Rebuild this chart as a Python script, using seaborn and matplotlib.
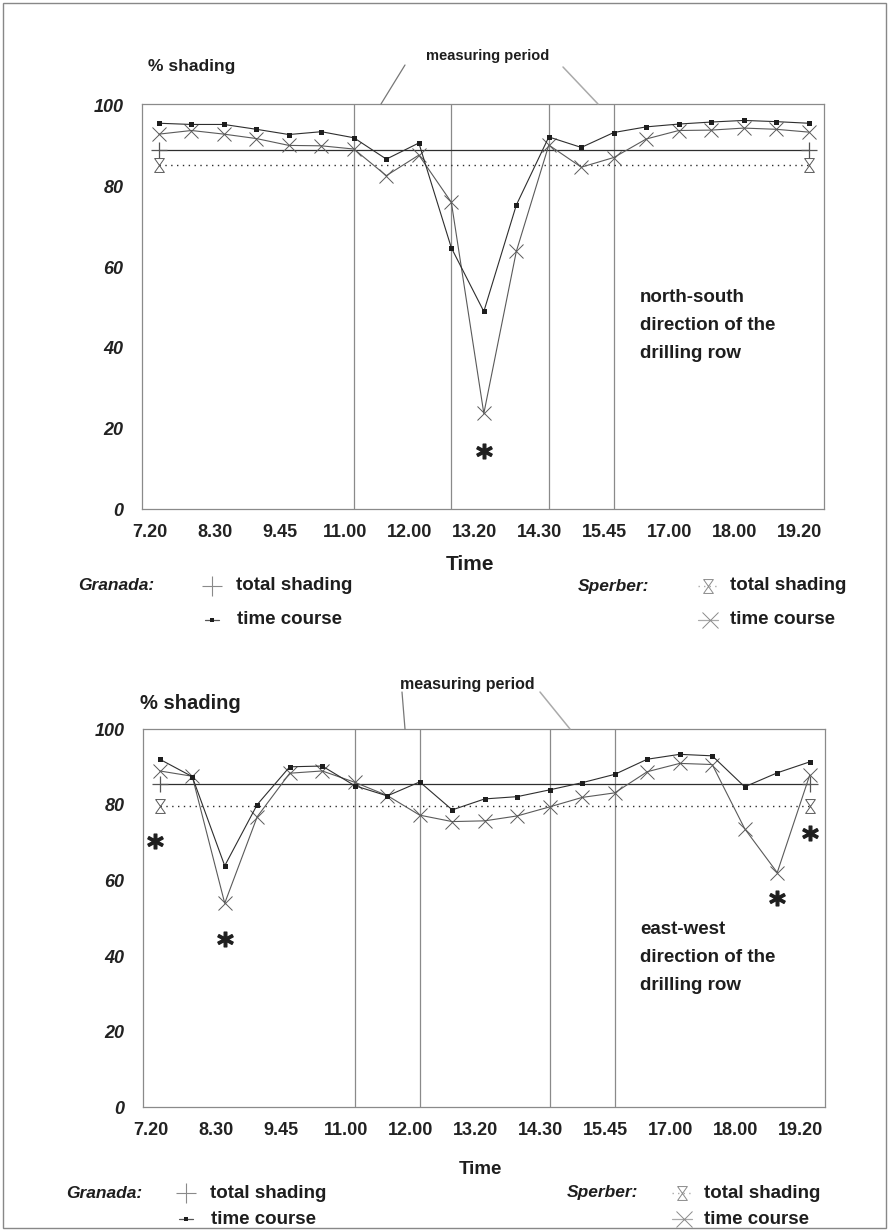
import numpy as np
import pandas as pd
import matplotlib
matplotlib.use("Agg")
import matplotlib.pyplot as plt
import seaborn as sns
from matplotlib.lines import Line2D
from matplotlib.path import Path
from matplotlib.patches import Rectangle
from matplotlib.transforms import ScaledTranslation

# --- data -------------------------------------------------------------
sample_idx = list(range(21))
time_labels = ["7.20", "8.30", "9.45", "11.00", "12.00", "13.20",
               "14.30", "15.45", "17.00", "18.00", "19.20"]
y_ticks = [0, 20, 40, 60, 80, 100]

# north-south drilling row
ns_granada_course = [95.7, 95.4, 95.4, 94.2, 92.9, 93.6, 92.1, 86.8, 90.8, 64.8, 49.0,
                     75.4, 92.3, 89.7, 93.4, 94.8, 95.5, 96.0, 96.4, 96.1, 95.7]
ns_sperber_course = [93.0, 93.9, 93.0, 91.9, 90.2, 90.1, 89.3, 82.7, 87.8, 76.1, 23.7,
                     63.9, 90.3, 84.8, 87.2, 91.8, 93.9, 94.0, 94.5, 94.2, 93.5]
ns_granada_total = 89.1
ns_sperber_total = 85.3
ns_periods = [6, 9, 12, 14]
ns_star_idx = [10]
ns_star_val = [14.4]

# east-west drilling row
ew_granada_course = [92.1, 87.5, 63.9, 80.1, 90.1, 90.3, 85.1, 82.4, 86.1, 78.7, 81.6,
                     82.2, 84.0, 85.9, 88.1, 92.1, 93.4, 93.0, 84.8, 88.5, 91.4]
ew_sperber_course = [89.0, 87.6, 54.0, 76.9, 88.4, 89.0, 86.0, 82.5, 77.3, 75.6, 75.8,
                     77.1, 79.5, 82.0, 83.2, 88.8, 91.0, 90.7, 73.7, 62.1, 87.9]
ew_granada_total = 85.5
ew_sperber_total = 79.8
ew_periods = [6, 8, 12, 14]
ew_star_idx = [-0.15, 2, 19, 20]
ew_star_val = [70.4, 44.5, 55.4, 72.6]

# --- style ------------------------------------------------------------
sns.set_theme(style="white")
plt.rcParams["font.family"] = ["Liberation Sans", "DejaVu Sans"]

W, H = 889, 1231
fig = plt.figure(figsize=(W / 100, H / 100), dpi=100)

C_G = "#2e2e2e"
C_S = "#5a5a5a"
C_AX = "#8a8a8a"

# hourglass marker for the Sperber total shading
hourglass = Path([(-0.7, 1), (0.7, 1), (-0.7, -1), (0.7, -1), (-0.7, 1)],
                 [Path.MOVETO, Path.LINETO, Path.LINETO, Path.LINETO, Path.LINETO])


def fx(px):
    return px / W


def fy(py):
    return 1 - py / H


def draw_panel(rect, ymax, g_course, s_course, g_total, s_total, periods,
               star_idx, star_val):
    ax = fig.add_axes(rect)
    df = pd.DataFrame({"idx": sample_idx, "granada": g_course, "sperber": s_course})

    for p in periods:
        ax.axvline(p, color=C_AX, lw=0.9, zorder=1)

    ends = [sample_idx[0], sample_idx[-1]]
    tot = pd.DataFrame({"idx": ends, "g": [g_total] * 2, "s": [s_total] * 2})
    sns.lineplot(data=tot, x="idx", y="g", ax=ax, color=C_G, lw=0.9, zorder=2)
    sns.lineplot(data=tot, x="idx", y="s", ax=ax, color=C_G, lw=1.0,
                 linestyle=(0, (1, 3.2)), zorder=2)
    ax.plot(tot["idx"], tot["g"], linestyle="none", marker="+", markersize=12,
            mew=0.9, color="#555", zorder=2)
    ax.plot(tot["idx"], tot["s"], linestyle="none", marker=hourglass, markersize=10,
            mew=0.7, mfc="none", mec=C_S, zorder=2)

    sns.lineplot(data=df, x="idx", y="sperber", ax=ax, color=C_S, lw=0.8,
                 marker="x", markersize=10, mew=0.7, mec=C_S, zorder=3)
    sns.lineplot(data=df, x="idx", y="granada", ax=ax, color=C_G, lw=0.8,
                 marker="s", markersize=3.6, mew=0, mfc="#1e1e1e", zorder=4)

    ax.plot(star_idx, star_val, linestyle="none", marker=r"$\mathbf{*}$",
            markersize=11, color="#1e1e1e", zorder=5)

    ax.set_xlim(-0.53, 20.47)
    ax.set_ylim(0, ymax)
    ax.set_xticks(sample_idx)
    ax.set_xticklabels([time_labels[i // 2] if i % 2 == 0 else "" for i in sample_idx],
                       fontsize=13, fontweight="bold", color="#222")
    ax.set_yticks(y_ticks)
    ax.set_yticklabels([str(v) for v in y_ticks], fontsize=13, fontweight="bold",
                       fontstyle="italic", color="#222")
    ax.tick_params(axis="x", direction="in", length=5, width=0.8, color="#aaaaaa", pad=10.5)
    ax.tick_params(axis="y", direction="in", length=6, width=0.8, color="#aaaaaa", pad=13)
    off = ScaledTranslation(-9 / 100, 0, fig.dpi_scale_trans)
    for lab in ax.get_xticklabels():
        lab.set_transform(lab.get_transform() + off)
    for s in ax.spines.values():
        s.set_color(C_AX)
        s.set_linewidth(0.9)
    ax.set_xlabel("")
    ax.set_ylabel("")
    ax.grid(False)
    return ax


ax1 = draw_panel([fx(141.7), fy(509), fx(824) - fx(141.7), fy(104.3) - fy(509)], 100.4,
                 ns_granada_course, ns_sperber_course, ns_granada_total,
                 ns_sperber_total, ns_periods, ns_star_idx, ns_star_val)
ax2 = draw_panel([fx(142.5), fy(1107.3), fx(825) - fx(142.5), fy(729) - fy(1107.3)], 100.1,
                 ew_granada_course, ew_sperber_course, ew_granada_total,
                 ew_sperber_total, ew_periods, ew_star_idx, ew_star_val)

BOLD = dict(fontweight="bold", color="#1e1e1e")


def ftext(x, y, s, size=13, **kw):
    d = dict(BOLD)
    d.update(kw)
    fig.text(fx(x), fy(y), s, fontsize=size, va="center", **d)


def fline(xs, ys, **kw):
    fig.add_artist(Line2D([fx(v) for v in xs], [fy(v) for v in ys], **kw))


def fmark(x, y, **kw):
    fig.add_artist(Line2D([fx(x)], [fy(y)], linestyle="none", **kw))


def legend_block(y1, y2, g_end, g_glyph, s_start, s_glyph, size):
    # Granada
    ftext(g_end, y1, "Granada:", 12.5, fontstyle="italic", ha="right")
    fmark(g_glyph, y1, marker="+", markersize=14, mew=0.8, color="#8a8a8a")
    ftext(g_glyph + 24, y1, "total shading", size)
    fline([g_glyph - 7, g_glyph + 7], [y2, y2], color="#555", lw=0.9)
    fmark(g_glyph, y2, marker="s", markersize=3.4, mew=0, color="#1e1e1e")
    ftext(g_glyph + 25, y2, "time course", size)
    # Sperber
    ftext(s_start, y1, "Sperber:", 12.5, fontstyle="italic")
    fline([s_glyph - 10, s_glyph + 10], [y1, y1], color="#aaa", lw=1.0,
          linestyle=(0, (1, 3)))
    fmark(s_glyph, y1, marker=hourglass, markersize=10, mew=0.7, mfc="white",
          mec="#8a8a8a")
    ftext(s_glyph + 22, y1, "total shading", size)
    fline([s_glyph - 10, s_glyph + 10], [y2, y2], color="#aaa", lw=0.9)
    fmark(s_glyph + 2, y2, marker="x", markersize=11, mew=0.7, color="#8a8a8a")
    ftext(s_glyph + 22, y2, "time course", size)


# top panel annotations
ftext(148, 67, "% shading", 12.5)
ftext(426, 56, "measuring period", 10.5)
fline([405, 381], [65, 104], color="#777", lw=0.9)
fline([563, 598], [67, 104], color="#aaa", lw=1.1)
for i, t in enumerate(["north-south", "direction of the", "drilling row"]):
    ftext(640, 298 + 28 * i, t, 13.5)
fig.text(fx(470), fy(565), "Time", fontsize=15, ha="center", va="center", **BOLD)
legend_block(586, 620, 154, 212, 578, 708, 13.5)

# bottom panel annotations
ftext(140, 703, "% shading", 14.5)
ftext(400, 685, "measuring period", 11.5)
fline([402, 405], [692, 729], color="#777", lw=0.9)
fline([540, 570], [692, 729], color="#aaa", lw=1.1)
for i, t in enumerate(["east-west", "direction of the", "drilling row"]):
    ftext(640, 930 + 28 * i, t, 13.5)
fig.text(fx(480), fy(1170), "Time", fontsize=13.5, ha="center", va="center", **BOLD)
legend_block(1193, 1219, 142, 186, 567, 682, 13.5)

# page border
fig.add_artist(Rectangle((fx(3), fy(1228)), fx(883), fy(3) - fy(1228), fill=False,
                         edgecolor="#888", lw=1.0, transform=fig.transFigure))

fig.savefig("out.png", dpi=100)
